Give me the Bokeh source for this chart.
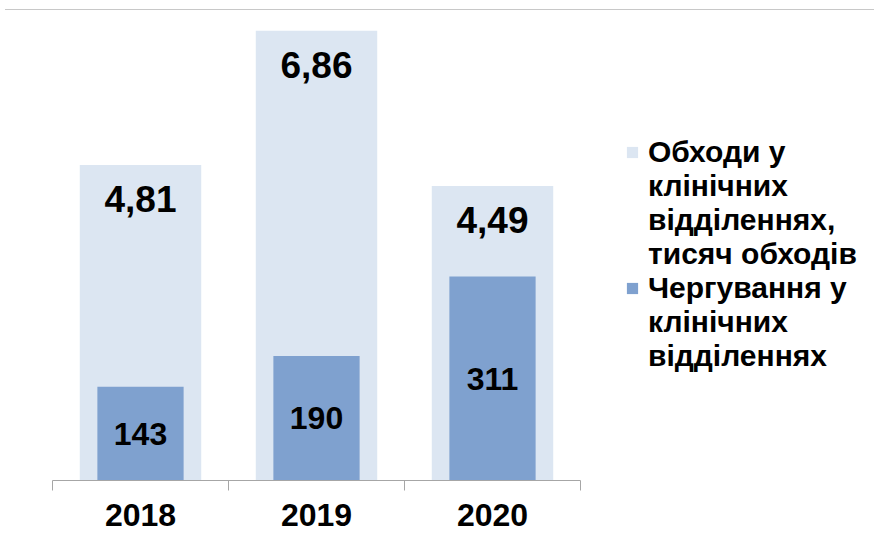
from bokeh.plotting import figure
from bokeh.models import (ColumnDataSource, Range1d, FixedTicker, Legend, LegendItem,
                          LabelSet, Div)
from bokeh.core.properties import value
from bokeh.layouts import column
from bokeh.embed import file_html
from bokeh.resources import INLINE

# ---- data ----
years = ["2018", "2019", "2020"]
rounds = [4.81, 6.86, 4.49]          # thousand rounds
rounds_labels = ["4,81", "6,86", "4,49"]
duties = [143, 190, 311]
legend_rounds = ["Обходи у", "клінічних", "відділеннях,", "тисяч обходів"]
legend_duties = ["Чергування у", "клінічних", "відділеннях"]

LIGHT = "#dce6f2"
DARK = "#7fa1cf"
FONT = "Liberation Sans"

# layout constants (pixels)
W, H_FIG = 874, 523
LEFT = 52
AXIS_PX = 528          # width of the category axis

xs = [i + 0.5 for i in range(len(years))]
src = ColumnDataSource(dict(
    x=xs, rounds=rounds, rl=rounds_labels,
    duties=duties, dmid=[d / 2 for d in duties], dl=[str(d) for d in duties],
))

x_end = len(years) * (W - LEFT) / AXIS_PX
p = figure(width=W, height=H_FIG, output_backend="svg", toolbar_location=None,
           x_range=Range1d(0, x_end), y_range=Range1d(0, 7),
           min_border_left=LEFT, min_border_right=0, min_border_top=11,
           min_border_bottom=53)
p.extra_y_ranges = {"duty": Range1d(0, 700)}

r1 = p.vbar(x="x", top="rounds", width=0.69, bottom=0, source=src,
            fill_color=LIGHT, line_color=None)
r2 = p.vbar(x="x", top="duties", width=0.49, bottom=0, source=src,
            fill_color=DARK, line_color=None, y_range_name="duty")

p.add_layout(LabelSet(x="x", y="rounds", text="rl", source=src, y_offset=-34,
                      text_align="center", text_baseline="middle",
                      text_font=value(FONT), text_font_size="37px",
                      text_font_style="bold", text_color="black"))
p.add_layout(LabelSet(x="x", y="dmid", text="dl", source=src, y_range_name="duty",
                      text_align="center", text_baseline="middle",
                      text_font=value(FONT), text_font_size="32px",
                      text_font_style="bold", text_color="black"))

p.yaxis.visible = False
p.xgrid.visible = False
p.ygrid.visible = False
p.outline_line_color = None
p.background_fill_color = "white"
p.border_fill_color = "white"

ax = p.xaxis[0]
ax.bounds = (0, len(years))
ax.ticker = FixedTicker(ticks=xs, minor_ticks=list(range(len(years) + 1)))
ax.major_label_overrides = {xs[i]: years[i] for i in range(len(years))}
ax.axis_line_color = "#a6a6a6"
ax.major_tick_out = 0
ax.major_tick_in = 0
ax.minor_tick_out = 10
ax.minor_tick_in = 0
ax.minor_tick_line_color = "#a6a6a6"
ax.major_label_standoff = 13
ax.major_label_text_font = FONT
ax.major_label_text_font_size = "32px"
ax.major_label_text_font_style = "bold"
ax.major_label_text_color = "black"

items = []
for i, t in enumerate(legend_rounds):
    items.append(LegendItem(label=t, renderers=[r1] if i == 0 else []))
for i, t in enumerate(legend_duties):
    items.append(LegendItem(label=t, renderers=[r2] if i == 0 else []))

legend = Legend(items=items, location=(573, 107), orientation="vertical",
                label_text_font=FONT, label_text_font_size="30px",
                label_text_font_style="bold", label_text_color="black",
                glyph_width=14, glyph_height=14, label_standoff=9,
                padding=0, spacing=0, margin=0,
                border_line_color=None, background_fill_alpha=0)
p.add_layout(legend)

top_line = Div(text="", width=W - 5, height=10, margin=(0, 0, 0, 5),
               styles={"border-bottom": "1px solid #c8c8c8"})

layout = column(top_line, p, spacing=0)
open("out.html", "w").write(file_html(layout, INLINE))
